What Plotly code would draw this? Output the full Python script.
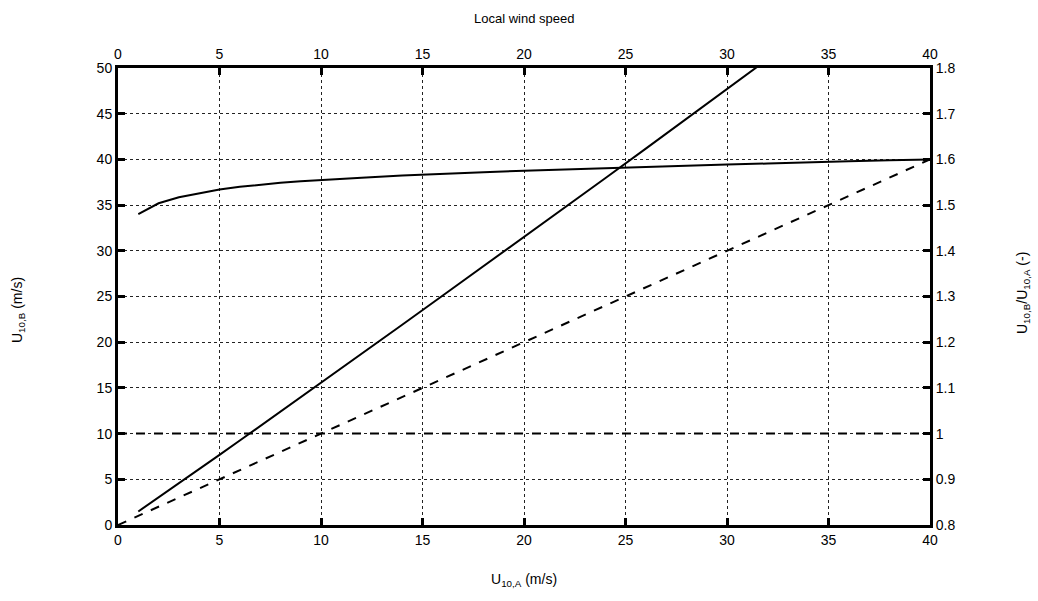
import plotly.graph_objects as go

# Wind speed at site A (m/s)
u10a = [1, 2, 3, 4, 5, 6, 7, 8, 9, 10, 12, 14, 16, 18, 20,
        22, 24, 26, 28, 30, 32, 34, 36, 38, 40]
# Ratio U10,B / U10,A
ratio = [1.480, 1.504, 1.517, 1.526, 1.534, 1.540, 1.545, 1.549, 1.552, 1.555,
         1.560, 1.565, 1.569, 1.572, 1.575, 1.578, 1.581, 1.584, 1.587, 1.589,
         1.591, 1.594, 1.596, 1.598, 1.600]
# Reference lines
identity_x = [0, 40]
unit_ratio = [1, 1]

u10b = [a * r for a, r in zip(u10a, ratio)]

FONT = "Arial, Liberation Sans, sans-serif"
BLACK = "#000000"

fig = go.Figure()

# U10,B against U10,A (left axis)
fig.add_trace(go.Scatter(x=u10a, y=u10b, mode="lines",
                         line=dict(color=BLACK, width=2), showlegend=False))
# 1:1 line
fig.add_trace(go.Scatter(x=identity_x, y=identity_x, mode="lines",
                         line=dict(color=BLACK, width=2, dash="dash"), showlegend=False))
# Ratio curve (right axis)
fig.add_trace(go.Scatter(x=u10a, y=ratio, mode="lines", xaxis="x2", yaxis="y2",
                         line=dict(color=BLACK, width=2), showlegend=False))
# Ratio = 1
fig.add_trace(go.Scatter(x=identity_x, y=unit_ratio, mode="lines", xaxis="x2", yaxis="y2",
                         line=dict(color=BLACK, width=2, dash="dash"), showlegend=False))

axis_common = dict(
    showline=True, linecolor=BLACK, linewidth=3,
    ticks="inside", ticklen=7, tickwidth=3, tickcolor=BLACK,
    tickfont=dict(family=FONT, size=14, color=BLACK),
    zeroline=False,
)

L, R, T, B = 118, 108, 68, 76
W, H = 1038, 601
plot_w = W - L - R
plot_h = H - T - B


def px_x(px):
    return (px - L) / plot_w


def px_y(py):
    return 1 - (py - T) / plot_h


label_font = dict(family=FONT, size=14, color=BLACK)

fig.update_layout(
    width=W, height=H,
    margin=dict(l=L, r=R, t=T, b=B),
    paper_bgcolor="white", plot_bgcolor="white",
    font=dict(family=FONT, color=BLACK),
    xaxis=dict(range=[0, 40], dtick=5, tick0=0, showgrid=True,
               gridcolor="#222222", gridwidth=1, griddash="dot", **axis_common),
    yaxis=dict(range=[0, 50], dtick=5, tick0=0, showgrid=True,
               gridcolor="#222222", gridwidth=1, griddash="dot", **axis_common),
    xaxis2=dict(range=[0, 40], dtick=5, tick0=0, overlaying="x", side="top",
                anchor="y", showgrid=False, **axis_common),
    yaxis2=dict(range=[0.8, 1.8], dtick=0.1, tick0=0.8, overlaying="y", side="right",
                anchor="x", showgrid=False, **axis_common),
    annotations=[
        dict(text="Local wind speed", x=0.5, y=px_y(18),
             xref="paper", yref="paper", xanchor="center", yanchor="middle",
             showarrow=False, font=dict(family=FONT, size=13, color=BLACK)),
        dict(text="U<sub>10,A</sub> (m/s)", x=0.5, y=px_y(580),
             xref="paper", yref="paper", xanchor="center", yanchor="middle",
             showarrow=False, font=label_font),
        dict(text="U<sub>10,B</sub> (m/s)", textangle=-90, x=px_x(18), y=px_y(310),
             xref="paper", yref="paper", xanchor="center", yanchor="middle",
             showarrow=False, font=label_font),
        dict(text="U<sub>10,B</sub>/U<sub>10,A</sub> (-)", textangle=-90,
             x=px_x(1023), y=px_y(293),
             xref="paper", yref="paper", xanchor="center", yanchor="middle",
             showarrow=False, font=label_font),
    ],
)

fig.write_html("out.html")
